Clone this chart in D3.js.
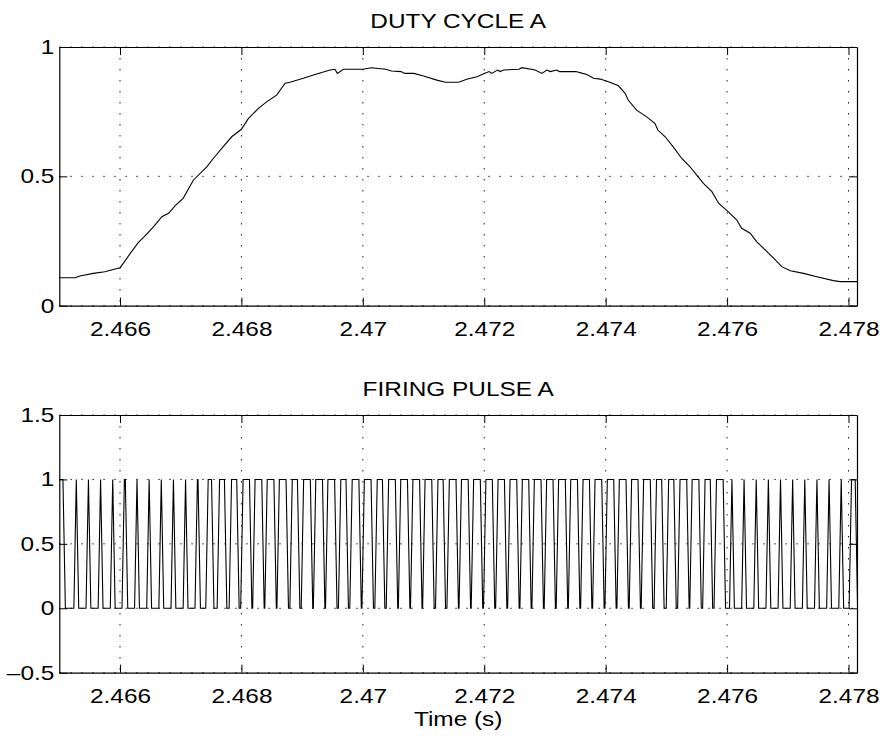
<!DOCTYPE html>
<html>
<head>
<meta charset="utf-8">
<script src="https://cdn.jsdelivr.net/npm/d3@7"></script>
<style>
  body { margin: 0; background: #fff; }
  text { font-family: "Liberation Sans", Arial, sans-serif; }
</style>
</head>
<body>
<div id="chart"></div>
<script>
// time axis, shared by both panels (s)
const timeRange = [2.465, 2.47814];
const timeTicks = [2.466, 2.468, 2.47, 2.472, 2.474, 2.476, 2.478];

// DUTY CYCLE A
const dutyTime = [
  2.465, 2.46526, 2.46534, 2.46556, 2.46575, 2.46595, 2.466, 2.46619, 2.4663, 2.46644,
  2.46655, 2.46669, 2.4668, 2.46691, 2.46704, 2.46721, 2.46743, 2.46754, 2.4677, 2.46784,
  2.468, 2.46811, 2.46828, 2.46842, 2.46858, 2.46872, 2.4688, 2.46902, 2.46924, 2.46946,
  2.46954, 2.46958, 2.46968, 2.47, 2.47014, 2.47038, 2.47047, 2.47063, 2.47069, 2.47084,
  2.471, 2.47122, 2.47136, 2.47158, 2.47171, 2.47188, 2.472, 2.47208, 2.47212, 2.47222,
  2.47226, 2.47232, 2.47257, 2.47262, 2.47284, 2.47295, 2.47303, 2.47309, 2.47319, 2.47324,
  2.47351, 2.47362, 2.47369, 2.4738, 2.47391, 2.47407, 2.47421, 2.47432, 2.47437, 2.47451,
  2.47467, 2.47481, 2.47486, 2.47498, 2.47511, 2.47525, 2.47539, 2.4755, 2.47561, 2.47575,
  2.47586, 2.47602, 2.47616, 2.47624, 2.47638, 2.47649, 2.47663, 2.47677, 2.4769, 2.47704,
  2.47726, 2.47748, 2.47775, 2.47786, 2.47814
];
const dutyValue = [
  0.108, 0.108, 0.115, 0.125, 0.131, 0.144, 0.146, 0.209, 0.244, 0.277,
  0.305, 0.344, 0.357, 0.387, 0.415, 0.486, 0.537, 0.570, 0.615, 0.653,
  0.682, 0.722, 0.763, 0.789, 0.814, 0.860, 0.864, 0.879, 0.896, 0.911,
  0.914, 0.898, 0.914, 0.914, 0.920, 0.914, 0.907, 0.905, 0.898, 0.898,
  0.888, 0.872, 0.864, 0.864, 0.875, 0.885, 0.898, 0.905, 0.898, 0.911,
  0.905, 0.911, 0.914, 0.920, 0.911, 0.898, 0.911, 0.905, 0.911, 0.905,
  0.905, 0.898, 0.894, 0.879, 0.876, 0.864, 0.850, 0.821, 0.795, 0.756,
  0.731, 0.705, 0.679, 0.653, 0.615, 0.570, 0.537, 0.505, 0.473, 0.441,
  0.396, 0.363, 0.331, 0.299, 0.280, 0.247, 0.215, 0.183, 0.151, 0.135,
  0.125, 0.112, 0.097, 0.093, 0.093
];
const dutyTicks = [0, 0.5, 1];

// FIRING PULSE A, one entry per switching period
const pulseMid = [
  2.46502, 2.46528, 2.46548, 2.46568, 2.46588, 2.46608, 2.46628, 2.46648, 2.46668, 2.46688, 2.46708,
  2.46728, 2.46748, 2.46768, 2.46788, 2.46808, 2.46828, 2.46848, 2.46868, 2.46888, 2.46908, 2.46928,
  2.46948, 2.46968, 2.46988, 2.47008, 2.47028, 2.47048, 2.47068, 2.47088, 2.47108, 2.47128, 2.47148,
  2.47168, 2.47188, 2.47208, 2.47228, 2.47248, 2.47268, 2.47288, 2.47308, 2.47328, 2.47348, 2.47368,
  2.47388, 2.47408, 2.47428, 2.47448, 2.47468, 2.47488, 2.47508, 2.47528, 2.47548, 2.47568, 2.47588,
  2.47608, 2.47628, 2.47648, 2.47668, 2.47688, 2.47708, 2.47728, 2.47748, 2.47768, 2.47788, 2.47808
];
// time spent at level 1 in each period (microseconds)
const pulseFlat = [
  80, 0, 0, 0, 0, 15, 0, 0, 0, 0, 0,
  10, 55, 80, 85, 105, 110, 110, 110, 85, 110, 110,
  110, 85, 110, 110, 85, 110, 110, 110, 110, 85, 110,
  110, 110, 105, 105, 110, 105, 110, 105, 110, 110, 105,
  110, 105, 110, 105, 110, 85, 85, 110, 110, 85, 110,
  0, 0, 0, 0, 0, 0, 0, 0, 0, 0, 60
];
const pulseEdge = 40; // microseconds per rising / falling edge
const pulseTicks = [-0.5, 0, 0.5, 1, 1.5];

const width = 883;
const height = 738;
const left = 59.3;
const right = 857;
const textScale = 1.22;

const svg = d3.select("#chart")
              .append("svg")
              .attr("width", width)
              .attr("height", height);

svg.append("rect").attr("width", width).attr("height", height).attr("fill", "#fff");

const x = d3.scaleLinear().domain(timeRange).range([left, right]);

const fmtTime = d => String(+d.toFixed(3));
const fmtValue = d => d < 0 ? "\u2013" + Math.abs(d) : String(d);

// one MATLAB style axes box with dotted grid and inward ticks
function drawPanel(top, bottom, yDomain, yTicks, title, id) {
  const y = d3.scaleLinear().domain(yDomain).range([bottom, top]);
  const g = svg.append("g");

  // grid
  g.selectAll(".vgrid").data(timeTicks).join("line")
   .attr("x1", d => x(d)).attr("x2", d => x(d))
   .attr("y1", top).attr("y2", bottom)
   .attr("stroke", "#222").attr("stroke-width", 1)
   .attr("stroke-dasharray", "1.5,9.5");
  g.selectAll(".hgrid").data(yTicks).join("line")
   .attr("x1", left).attr("x2", right)
   .attr("y1", d => y(d)).attr("y2", d => y(d))
   .attr("stroke", "#222").attr("stroke-width", 1)
   .attr("stroke-dasharray", "1.5,9.5");

  g.append("clipPath").attr("id", id)
   .append("rect").attr("x", left).attr("y", top)
   .attr("width", right - left).attr("height", bottom - top);

  // axes
  const xb = g.append("g").attr("transform", `translate(0,${bottom})`)
              .call(d3.axisBottom(x).tickValues(timeTicks).tickFormat(fmtTime)
                      .tickSize(-8).tickSizeOuter(0).tickPadding(16));
  g.append("g").attr("transform", `translate(0,${top})`)
   .call(d3.axisTop(x).tickValues(timeTicks).tickFormat("")
           .tickSize(-8).tickSizeOuter(0));
  const yl = g.append("g").attr("transform", `translate(${left},0)`)
              .call(d3.axisLeft(y).tickValues(yTicks).tickFormat(fmtValue)
                      .tickSize(-8).tickSizeOuter(0).tickPadding(5));
  g.append("g").attr("transform", `translate(${right},0)`)
   .call(d3.axisRight(y).tickValues(yTicks).tickFormat("")
           .tickSize(-8).tickSizeOuter(0));

  g.selectAll(".domain").attr("stroke", "#000").attr("stroke-width", 1.2);
  g.selectAll(".tick line").attr("stroke", "#000").attr("stroke-width", 1);
  g.selectAll(".tick text").attr("fill", "#000")
   .style("font-family", '"Liberation Sans", Arial, sans-serif')
   .style("font-size", "20px")
   .attr("transform", `scale(${textScale},1)`);
  yl.selectAll(".tick text").attr("x", -5 / textScale);

  g.append("text")
   .attr("transform", `translate(${(left + right) / 2},${top - 19}) scale(${textScale},1)`)
   .attr("text-anchor", "middle")
   .style("font-size", "20px")
   .text(title);

  return { g, y };
}

// upper panel
const p1 = drawPanel(47, 305.7, [0, 1], dutyTicks, "DUTY CYCLE A", "clipA");
const dutyLine = d3.line()
                   .x((d, i) => x(dutyTime[i]))
                   .y(d => p1.y(d));
p1.g.append("path")
    .datum(dutyValue)
    .attr("d", dutyLine)
    .attr("clip-path", "url(#clipA)")
    .attr("fill", "none")
    .attr("stroke", "#000")
    .attr("stroke-width", 1.1);

// lower panel
const p2 = drawPanel(415, 672.7, [-0.5, 1.5], pulseTicks, "FIRING PULSE A", "clipB");
const pulsePoints = [];
pulseMid.forEach((m, i) => {
  const half = pulseFlat[i] / 2e6;
  const edge = pulseEdge / 1e6;
  pulsePoints.push([m - half - edge, 0], [m - half, 1], [m + half, 1], [m + half + edge, 0]);
});
p2.g.append("path")
    .datum(pulsePoints)
    .attr("d", d3.line().x(d => x(d[0])).y(d => p2.y(d[1])))
    .attr("clip-path", "url(#clipB)")
    .attr("fill", "none")
    .attr("stroke", "#000")
    .attr("stroke-width", 1.1);

svg.append("text")
   .attr("transform", `translate(${(left + right) / 2},726) scale(${textScale},1)`)
   .attr("text-anchor", "middle")
   .style("font-size", "20px")
   .text("Time (s)");
</script>
</body>
</html>
